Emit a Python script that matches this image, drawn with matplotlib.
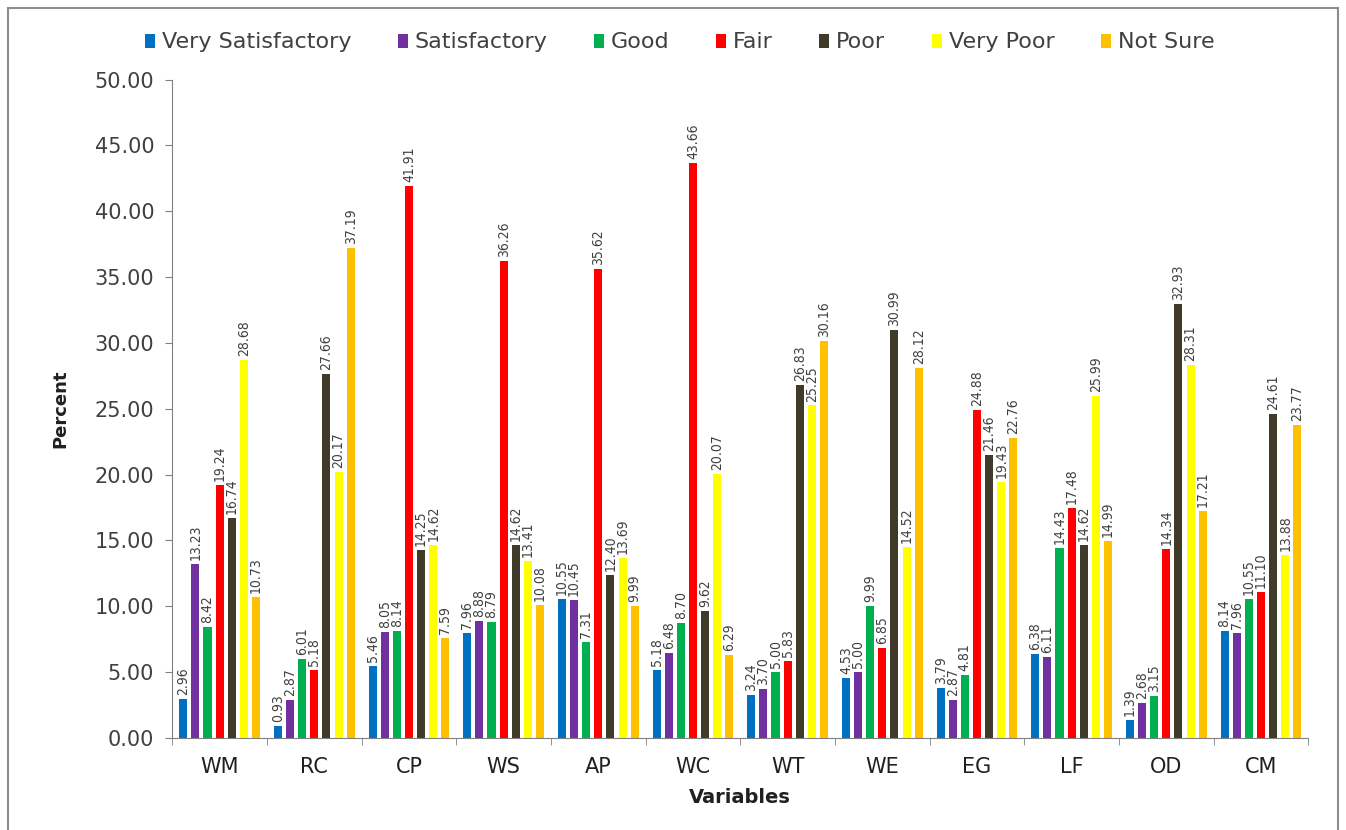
import matplotlib.pyplot as plt
import numpy as np
from matplotlib.patches import Rectangle

variables = ['WM', 'RC', 'CP', 'WS', 'AP', 'WC', 'WT', 'WE', 'EG', 'LF', 'OD', 'CM']
ratings = ['Very Satisfactory', 'Satisfactory', 'Good', 'Fair', 'Poor', 'Very Poor', 'Not Sure']
colors = ['#0070c0', '#7030a0', '#00b050', '#ff0000', '#403a28', '#ffff00', '#ffc000']

very_satisfactory = [2.96, 0.93, 5.46, 7.96, 10.55, 5.18, 3.24, 4.53, 3.79, 6.38, 1.39, 8.14]
satisfactory = [13.23, 2.87, 8.05, 8.88, 10.45, 6.48, 3.70, 5.00, 2.87, 6.11, 2.68, 7.96]
good = [8.42, 6.01, 8.14, 8.79, 7.31, 8.70, 5.00, 9.99, 4.81, 14.43, 3.15, 10.55]
fair = [19.24, 5.18, 41.91, 36.26, 35.62, 43.66, 5.83, 6.85, 24.88, 17.48, 14.34, 11.10]
poor = [16.74, 27.66, 14.25, 14.62, 12.40, 9.62, 26.83, 30.99, 21.46, 14.62, 32.93, 24.61]
very_poor = [28.68, 20.17, 14.62, 13.41, 13.69, 20.07, 25.25, 14.52, 19.43, 25.99, 28.31, 13.88]
not_sure = [10.73, 37.19, 7.59, 10.08, 9.99, 6.29, 30.16, 28.12, 22.76, 14.99, 17.21, 23.77]

series = [very_satisfactory, satisfactory, good, fair, poor, very_poor, not_sure]

plt.rcParams['font.family'] = ['DejaVu Sans']

fig = plt.figure(figsize=(13.46, 8.30), dpi=100)
ax = fig.add_axes([0.128, 0.111, 0.844, 0.793])

x = np.arange(len(variables))
pitch = 0.128
width = 0.085
for i, (vals, name, c) in enumerate(zip(series, ratings, colors)):
    pos = x + (i - 3) * pitch
    ax.bar(pos, vals, width=width, color=c, label=name)
    for px, v in zip(pos, vals):
        ax.text(px, v + 0.3, f'{v:.2f}', rotation=90, ha='center', va='bottom',
                fontsize=10, fontstretch='condensed', color='#404040')

ax.set_ylim(0, 50)
ax.set_xlim(-0.5, len(variables) - 0.5)
yt = np.arange(0, 50.01, 5)
ax.set_yticks(yt)
ax.set_yticklabels([f'{t:.2f}' for t in yt], fontsize=15, color='#404040')
ax.set_xticks(x)
ax.set_xticklabels(variables, fontsize=15, color='#202020')
ax.set_xticks(np.arange(-0.5, len(variables)), minor=True)
ax.tick_params(axis='x', which='major', length=0, pad=14)
ax.tick_params(axis='x', which='minor', length=5, color='#808080')
ax.tick_params(axis='y', length=5, color='#808080', pad=8)

for side in ['top', 'right']:
    ax.spines[side].set_visible(False)
for side in ['left', 'bottom']:
    ax.spines[side].set_color('#808080')

ax.set_xlabel('Variables', fontsize=14, fontweight='bold', color='#202020', labelpad=8)
ax.set_ylabel('Percent', fontsize=13, fontweight='bold', color='#202020', labelpad=18)

fig.legend(loc='upper center', bbox_to_anchor=(0.505, 0.985), ncol=7, frameon=False,
           fontsize=16, handlelength=0.45, handleheight=0.6, handletextpad=0.3,
           columnspacing=2.1, labelcolor='#404040')

fig.patches.append(Rectangle((0.006, -0.01), 0.988, 1.0, transform=fig.transFigure,
                             fill=False, edgecolor='#8c8c8c', linewidth=1.5))

plt.savefig('out.png', dpi=100)
